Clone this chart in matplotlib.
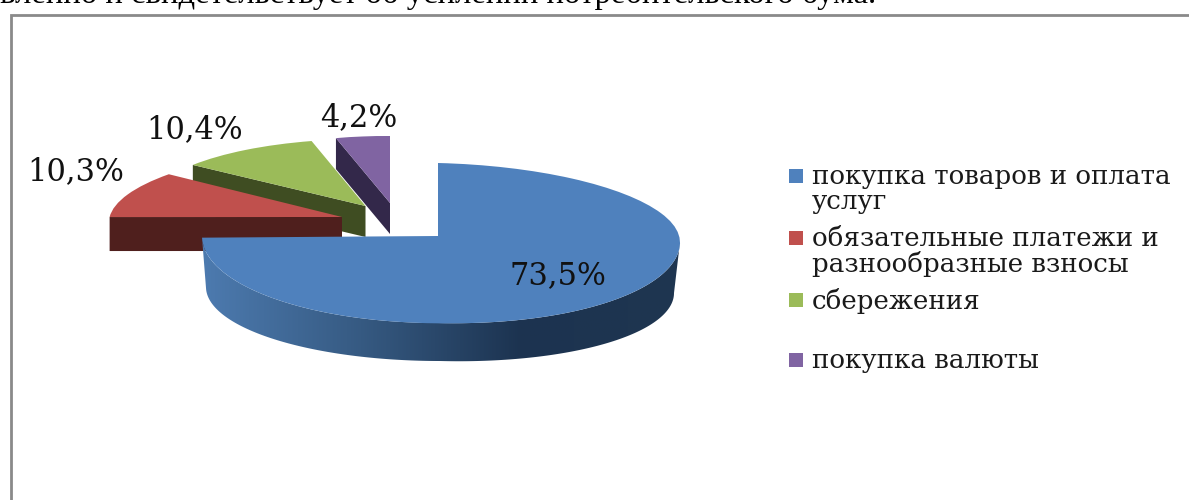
import numpy as np
import matplotlib
matplotlib.use('Agg')
import matplotlib.pyplot as plt
from matplotlib.colors import LinearSegmentedColormap
from matplotlib.patches import Polygon
from matplotlib.transforms import Affine2D, Transform

plt.rcParams['font.family'] = ['Liberation Serif', 'DejaVu Serif']

shares = [73.5, 10.3, 10.4, 4.2]
share_labels = ['73,5%', '10,3%', '10,4%', '4,2%']
legend_labels = ['покупка товаров и оплата\nуслуг',
                 'обязательные платежи и\nразнообразные взносы',
                 'сбережения',
                 'покупка валюты']
top_text = 'вленно и свидетельствует об усилении потребительского бума.'

colors = ['#4f81bd', '#c0504d', '#9bbb59', '#8064a2']
wall_colors = [None, '#4f1f1d', '#3f4d22', '#33284a']


class Tilted(Transform):
    # pie seen from above: unit circle to an oval, near half deeper than far half
    input_dims = 2
    output_dims = 2

    def __init__(self, cx, cy, rx_right, rx_left, ry_far, ry_near, sag=0):
        super().__init__()
        self.p = (cx, cy, rx_right, rx_left, ry_far, ry_near, sag)

    def transform_non_affine(self, values):
        cx, cy, rr, rl, far, near, sag = self.p
        x, y = np.asarray(values).T
        return np.c_[cx + np.where(x > 0, rr, rl) * x,
                     cy - np.where(y > 0, far, near) * y + sag * np.clip(x, 0, None)]


fig = plt.figure(figsize=(11.89, 5.0), dpi=100)
ax = fig.add_axes([0, 0, 1, 1])

wedges, _ = ax.pie(shares, colors=colors, startangle=90, counterclock=False,
                   wedgeprops={'linewidth': 0})

# screen placement of each slice
blue_top = Tilted(438, 236, 242, 236, 73, 87, 6)
blue_bottom = Tilted(440, 287, 234, 234, 70, 74, 6)
placing = [blue_top,
           Affine2D.from_values(232, 1.3, 22, -70, 342, 217),
           Affine2D.from_values(218, 1.4, 4, -67, 365.5, 206),
           Affine2D.from_values(204, 1, 0, -67, 390, 203)]
depths = [None, 34, 31, 31]
tops_z = [8, 6, 4, 2]

for wedge, place, z in zip(wedges, placing, tops_z):
    wedge.set_transform(place + ax.transData)
    wedge.set_zorder(z)

# cut faces of the pulled out slices
for wedge, place, depth, col, z in zip(wedges[1:], placing[1:], depths[1:],
                                       wall_colors[1:], tops_z[1:]):
    a = np.deg2rad(wedge.theta2)
    pts = place.transform([[0, 0], [np.cos(a), np.sin(a)]])
    ax.fill([pts[0, 0], pts[1, 0], pts[1, 0], pts[0, 0]],
            [pts[0, 1], pts[1, 1], pts[1, 1] + depth, pts[0, 1] + depth],
            color=col, lw=0, zorder=z - 1)

# outer wall of the big slice, dark to the right
a = np.deg2rad(np.linspace(wedges[0].theta1, 0, 200))
circle = np.c_[np.cos(a), np.sin(a)]
wall = np.vstack([blue_top.transform(circle), blue_bottom.transform(circle)[::-1]])
clip = Polygon(wall, closed=True, facecolor='none', edgecolor='none')
ax.add_patch(clip)
wall_cmap = LinearSegmentedColormap.from_list(
    'wall', ['#4d7bb0', '#365a82', '#1c3350', '#1f3650'])
im = ax.imshow(np.linspace(0, 1, 256)[None, :], cmap=wall_cmap, aspect='auto',
               extent=(200, 682, 365, 235), zorder=7)
im.set_clip_path(clip)

# the picture is stretched sideways, the wider serif gets closest to that
label_xy = [(558, 276), (76, 172), (195, 130), (359, 118)]
for txt, (x, y) in zip(share_labels, label_xy):
    ax.text(x, y, txt, fontsize=22, family='DejaVu Serif', ha='center', va='center',
            color='#111111', zorder=10)

legend_y = [176, 238, 300, 360]
ax.scatter([796] * 4, legend_y, marker='s', s=95, c=colors, linewidths=0, zorder=10)
for txt, y in zip(legend_labels, legend_y):
    ax.text(812, y - 12, txt, fontsize=18.8, family='DejaVu Serif', ha='left', va='top',
            linespacing=1.0, color='#1a1a1a', zorder=10)

ax.text(876, 3.5, top_text, fontsize=23.5, ha='right', va='baseline', color='black')

# frame around the pasted chart, only two sides are visible
ax.plot([10.8, 10.8, 1189], [500, 14.5, 14.5], color='#8a8a8a', lw=2, solid_joinstyle='miter')

ax.set_aspect('auto')
ax.set_xlim(0, 1189)
ax.set_ylim(500, 0)
ax.axis('off')

fig.savefig('out.png', dpi=100, facecolor='white')
